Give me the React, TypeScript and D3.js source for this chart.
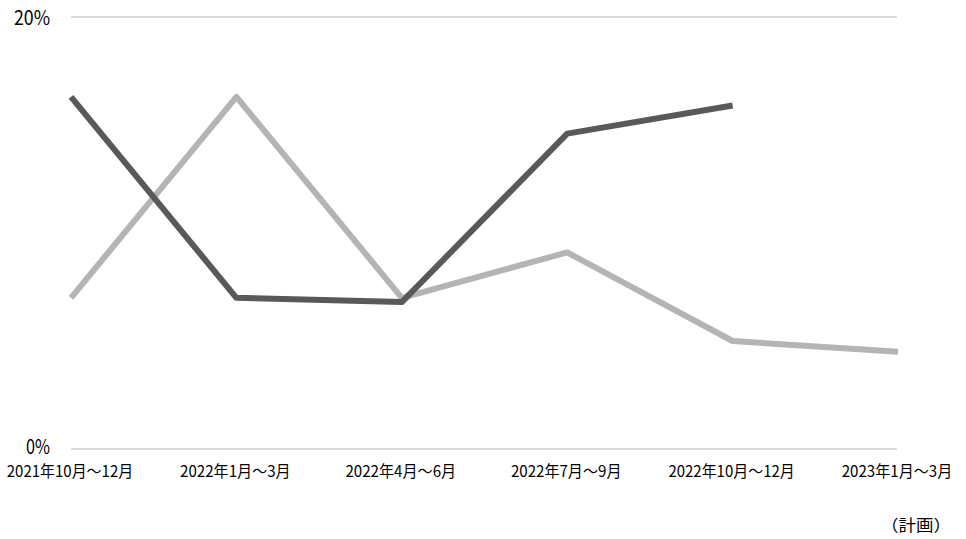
import React from "react";
import * as d3 from "d3";

const categories = [
  "2021年10月～12月",
  "2022年1月～3月",
  "2022年4月～6月",
  "2022年7月～9月",
  "2022年10月～12月",
  "2023年1月～3月",
];
const seriesDark: (number | null)[] = [16.3, 7.0, 6.8, 14.6, 15.9, null];
const seriesLight: (number | null)[] = [7.0, 16.3, 7.0, 9.1, 5.0, 4.5];
const yTicks = [0, 20];
const note = "（計画）";

const W = 966;
const H = 539;
const FONT = "'Noto Sans CJK JP', 'Noto Sans', sans-serif";

// width in em of a string in a half-width/full-width gothic font
const emWidth = (s: string) =>
  Array.from(s).reduce((acc, ch) => acc + (ch.charCodeAt(0) < 0x2000 ? 0.5 : 1), 0);

export default function App() {
  const x = d3.scalePoint<string>().domain(categories).range([71, 898]).padding(0);
  const y = d3.scaleLinear().domain([0, 20]).range([449, 17]);

  const line = d3
    .line<number | null>()
    .defined((d) => d !== null)
    .x((_, i) => x(categories[i]) as number)
    .y((d) => y(d as number));

  const yFs = 20;
  const xFs = 15.5;

  return (
    <svg
      width={W}
      height={H}
      style={{ position: "absolute", left: 0, top: 0, background: "#fff" }}
      fontFamily={FONT}
    >
      {yTicks.map((t) => {
        const label = `${t}%`;
        return (
          <g key={t}>
            <line x1={71} x2={897} y1={y(t)} y2={y(t)} stroke="#d9d9d9" strokeWidth={2} />
            <text
              x={50}
              y={y(t) + (t === 0 ? 5 : 8)}
              textAnchor="end"
              fontSize={yFs}
              fill="#000"
              textLength={emWidth(label) * 24}
              lengthAdjust="spacingAndGlyphs"
            >
              {label}
            </text>
          </g>
        );
      })}
      <path
        d={line(seriesLight) || ""}
        fill="none"
        stroke="#b4b4b4"
        strokeWidth={6}
        strokeLinejoin="round"
      />
      <path
        d={line(seriesDark) || ""}
        fill="none"
        stroke="#595959"
        strokeWidth={6}
        strokeLinejoin="round"
      />
      {categories.map((c) => (
        <text
          key={c}
          x={(x(c) as number) - 1}
          y={477}
          textAnchor="middle"
          fontSize={xFs}
          fill="#000"
          textLength={emWidth(c) * 15.8}
          lengthAdjust="spacingAndGlyphs"
        >
          {c}
        </text>
      ))}
      <text
        x={881}
        y={531}
        textAnchor="start"
        fontSize={16}
        fill="#000"
        textLength={70}
        lengthAdjust="spacingAndGlyphs"
      >
        {note}
      </text>
    </svg>
  );
}
